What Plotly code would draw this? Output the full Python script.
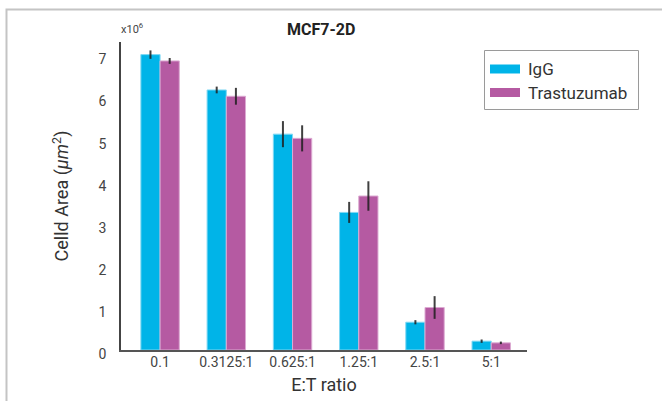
import plotly.graph_objects as go

categories = ["0.1", "0.3125:1", "0.625:1", "1.25:1", "2.5:1", "5:1"]
igg_values = [7.02, 6.18, 5.13, 3.27, 0.66, 0.21]
igg_errors = [0.10, 0.08, 0.31, 0.25, 0.05, 0.04]
tras_values = [6.87, 6.03, 5.03, 3.66, 1.01, 0.17]
tras_errors = [0.07, 0.20, 0.31, 0.35, 0.27, 0.03]
series_names = ["IgG", "Trastuzumab"]
series_colors = ["#00b4e8", "#b55aa2"]
edge_colors = ["#7fd8f3", "#dcaad2"]
y_ticks = [0, 1, 2, 3, 4, 5, 6, 7]

FONT = "Roboto"
TXT = "#333333"
W, H = 662, 401
ML, MR, MT, MB = 121, 135, 42, 51
PW, PH = W - ML - MR, H - MT - MB


def px(x):
    return (x - ML) / PW


def py(y):
    return (H - MB - y) / PH


fig = go.Figure()
for name, vals, errs, col, edge in zip(series_names, [igg_values, tras_values],
                                       [igg_errors, tras_errors], series_colors, edge_colors):
    fig.add_trace(go.Bar(
        name=name, x=categories, y=vals, showlegend=False,
        marker=dict(color=col, line=dict(color=edge, width=1)),
        error_y=dict(type="data", array=errs, visible=True,
                     color="rgba(30,30,30,0.85)", thickness=2, width=0),
    ))

shapes = [
    # outer frame (top and left edges)
    dict(type="path", xref="paper", yref="paper",
         path="M %f %f L %f %f L %f %f" % (px(6.5), py(420), px(6.5), py(9.5), px(680), py(9.5)),
         line=dict(color="#c4c4c4", width=2)),
    # legend box
    dict(type="rect", xref="paper", yref="paper",
         x0=px(484.5), x1=px(638.5), y0=py(109.5), y1=py(50.5),
         line=dict(color="#9a9a9a", width=1), fillcolor="white"),
]
annotations = [
    dict(text="<b>MCF7-2D</b>", xref="paper", yref="paper",
         x=px(321), y=py(29), xanchor="center", yanchor="middle",
         showarrow=False, font=dict(family=FONT, size=16, color="#222222")),
    dict(text="x10<sup>6</sup>", xref="paper", yref="paper",
         x=px(119), y=py(28), xanchor="left", yanchor="middle",
         showarrow=False, font=dict(family=FONT, size=11, color="#444444")),
]
legend_rows = [69, 92.5]
for name, col, yc in zip(series_names, series_colors, legend_rows):
    shapes.append(dict(type="rect", xref="paper", yref="paper",
                       x0=px(490), x1=px(520), y0=py(yc + 4.5), y1=py(yc - 4.5),
                       line=dict(width=0), fillcolor=col))
    annotations.append(dict(text=name, xref="paper", yref="paper",
                            x=px(526), y=py(yc), xanchor="left", yanchor="middle",
                            showarrow=False, font=dict(family=FONT, size=17, color=TXT)))

fig.update_layout(
    width=W, height=H,
    margin=dict(l=ML, r=MR, t=MT, b=MB, autoexpand=False),
    paper_bgcolor="white", plot_bgcolor="white",
    barmode="group", bargap=0.42, bargroupgap=0.0,
    font=dict(family=FONT, color=TXT),
    showlegend=False,
    xaxis=dict(
        range=[-0.59, 5.54], showline=True, linecolor="#555555", linewidth=2,
        ticks="", showgrid=False, zeroline=False,
        tickfont=dict(family=FONT, size=14, color="#444444"),
        ticklabelstandoff=-2,
        title=dict(text="E:T ratio", font=dict(family=FONT, size=18, color=TXT), standoff=10),
    ),
    yaxis=dict(
        range=[0, 7.32], showline=True, linecolor="#444444", linewidth=1.5,
        ticks="", showgrid=False, zeroline=False,
        tickvals=y_ticks, ticktext=[str(v) for v in y_ticks],
        tickfont=dict(family=FONT, size=14, color="#444444"),
        ticklabelstandoff=10, ticklabelshift=4,
        title=dict(text="Celld Area (<i>μm</i><sup>2</sup>)",
                   font=dict(family=FONT, size=18, color=TXT), standoff=25),
    ),
    annotations=annotations,
    shapes=shapes,
)

fig.write_html("out.html", config={"displayModeBar": False},
               post_script="document.body.style.margin='0';document.body.style.overflow='hidden';")
